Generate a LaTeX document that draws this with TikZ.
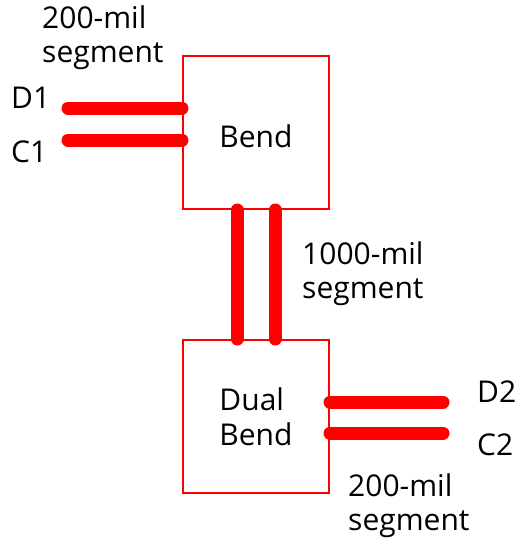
\documentclass[tikz,border=0pt]{standalone}
\usepackage{fontspec}
\setmainfont{Open Sans}
\usetikzlibrary{positioning}
\definecolor{TraceRed}{HTML}{FF0000}

\begin{document}
\begin{tikzpicture}[
    x=1pt, y=-1pt,
    block/.style={
        rectangle,
        draw=TraceRed,
        line width=2pt,
        minimum width=146pt,
        minimum height=153pt,
        inner sep=0pt,
        align=left,
        font=\fontsize{30}{35}\selectfont
    },
    trace/.style={
        draw=TraceRed,
        line width=13pt,
        line cap=round
    },
    lbl/.style={
        inner sep=0pt,
        align=left,
        anchor=base west,
        font=\fontsize{30}{34}\selectfont
    }
]
\useasboundingbox (0,0) rectangle (520,538);

\node[block, text height=30pt] (bend) at (256,132.5) {Bend};
\node[block] (dual) at (256,416.5) {Dual\\Bend};

\coordinate (d1) at (68,108);
\coordinate (c1) at (68,140);
\coordinate (d2) at (443,402);
\coordinate (c2) at (443,433);

\draw[trace] (d1)--(d1 -| bend.west);
\draw[trace] (c1)--(c1 -| bend.west);
\draw[trace] ([xshift=-19pt]bend.south)--([xshift=-19pt]dual.north);
\draw[trace] ([xshift=19pt]bend.south)--([xshift=19pt]dual.north);
\draw[trace] (d2 -| dual.east)--(d2);
\draw[trace] (c2 -| dual.east)--(c2);

\node[lbl] (seg1) at (42,62) {200-mil\\segment};
\node[lbl] (nameD1) at (11,108) {D1};
\node[lbl] (nameC1) at (11,162) {C1};
\node[lbl] (seg2) at (302,298) {1000-mil\\segment};
\node[lbl] (nameD2) at (477,402) {D2};
\node[lbl] (nameC2) at (477,455) {C2};
\node[lbl] (seg3) at (348,530) {200-mil\\segment};

\end{tikzpicture}
\end{document}
